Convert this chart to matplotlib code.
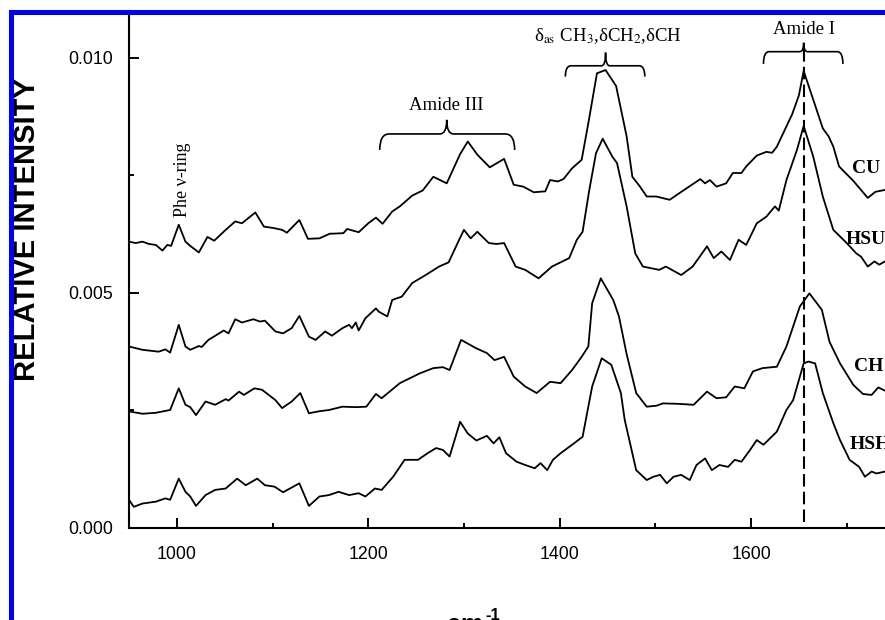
import numpy as np
import matplotlib
matplotlib.use("Agg")
import matplotlib.pyplot as plt
from matplotlib.patches import Rectangle, PathPatch
from matplotlib.path import Path
from matplotlib.ticker import MultipleLocator, FormatStrFormatter

# Raman spectra, wavenumber (cm-1) and relative intensity in units of 1e-3
cu_x = [950, 957, 964, 971, 978, 985, 990, 994, 1002, 1009, 1014, 1023, 1032, 1039, 1051, 1061,
        1068, 1082, 1091, 1101, 1110, 1115, 1128, 1137, 1149, 1160, 1163, 1174, 1178, 1190, 1200,
        1208, 1215, 1225, 1233, 1246, 1257, 1268, 1282, 1296, 1304, 1314, 1327, 1342, 1352, 1362,
        1373, 1385, 1390, 1398, 1404, 1413, 1423, 1430, 1439, 1448, 1459, 1470, 1476, 1484, 1491,
        1501, 1515, 1525, 1547, 1552, 1557, 1564, 1574, 1581, 1590, 1595, 1606, 1616, 1622, 1627,
        1643, 1650, 1655, 1665, 1675, 1681, 1686, 1692, 1707, 1722, 1730, 1740]
cu_y = [6.09, 6.06, 6.09, 6.04, 6.02, 5.90, 6.02, 6.00, 6.45, 6.09, 6.00, 5.86, 6.19, 6.11, 6.34, 6.52,
        6.48, 6.71, 6.41, 6.38, 6.34, 6.28, 6.55, 6.15, 6.16, 6.26, 6.26, 6.27, 6.36, 6.29, 6.48,
        6.60, 6.47, 6.73, 6.84, 7.07, 7.18, 7.47, 7.33, 7.95, 8.22, 7.94, 7.67, 7.85, 7.30, 7.26,
        7.14, 7.16, 7.40, 7.37, 7.42, 7.65, 7.83, 8.61, 9.67, 9.74, 9.40, 8.33, 7.47, 7.26, 7.05,
        7.05, 6.98, 7.12, 7.42, 7.33, 7.40, 7.26, 7.33, 7.55, 7.55, 7.69, 7.92, 8.00, 7.98, 8.11,
        8.80, 9.20, 9.72, 9.11, 8.50, 8.33, 8.11, 7.69, 7.38, 7.02, 7.15, 7.19]

hsu_x = [950, 964, 981, 988, 993, 1002, 1009, 1014, 1023, 1026, 1033, 1049, 1054, 1061, 1068, 1080,
         1087, 1092, 1103, 1111, 1120, 1128, 1138, 1145, 1155, 1162, 1173, 1180, 1183, 1187, 1190,
         1197, 1208, 1211, 1220, 1225, 1235, 1246, 1260, 1274, 1284, 1295, 1300, 1307, 1314, 1326,
         1334, 1342, 1354, 1364, 1378, 1392, 1410, 1418, 1424, 1431, 1438, 1445, 1455, 1460, 1470,
         1479, 1487, 1504, 1511, 1527, 1539, 1554, 1561, 1569, 1578, 1587, 1595, 1606, 1616, 1625,
         1629, 1637, 1648, 1655, 1665, 1675, 1686, 1700, 1710, 1715, 1722, 1729, 1734, 1740]
hsu_y = [3.86, 3.79, 3.75, 3.80, 3.73, 4.32, 3.86, 3.79, 3.87, 3.85, 4.00, 4.20, 4.14, 4.44, 4.37, 4.44,
         4.39, 4.41, 4.18, 4.14, 4.25, 4.51, 4.07, 4.00, 4.18, 4.09, 4.25, 4.32, 4.25, 4.37, 4.20,
         4.46, 4.67, 4.60, 4.50, 4.85, 4.92, 5.21, 5.38, 5.56, 5.65, 6.13, 6.34, 6.16, 6.30, 6.06,
         6.04, 6.06, 5.56, 5.49, 5.31, 5.56, 5.74, 6.13, 6.30, 7.19, 7.97, 8.28, 7.90, 7.76, 6.84,
         5.84, 5.56, 5.49, 5.56, 5.38, 5.56, 5.99, 5.74, 5.88, 5.70, 6.13, 6.02, 6.48, 6.62, 6.84,
         6.75, 7.40, 8.04, 8.55, 7.90, 7.05, 6.34, 6.06, 5.84, 5.77, 5.56, 5.67, 5.60, 5.67]

ch_x = [950, 964, 978, 993, 1002, 1009, 1014, 1020, 1030, 1040, 1051, 1054, 1065, 1070, 1081, 1089,
        1103, 1110, 1120, 1129, 1138, 1148, 1159, 1173, 1187, 1198, 1208, 1214, 1233, 1254, 1268,
        1278, 1285, 1297, 1313, 1324, 1332, 1342, 1352, 1364, 1376, 1390, 1401, 1413, 1423, 1430,
        1434, 1443, 1456, 1462, 1470, 1480, 1491, 1501, 1508, 1525, 1540, 1554, 1564, 1574, 1583,
        1593, 1602, 1612, 1627, 1637, 1651, 1661, 1674, 1682, 1693, 1707, 1717, 1726, 1733, 1740]
ch_y = [2.48, 2.43, 2.45, 2.51, 2.97, 2.62, 2.57, 2.40, 2.69, 2.62, 2.74, 2.71, 2.90, 2.83, 2.97, 2.94,
        2.72, 2.55, 2.69, 2.87, 2.44, 2.48, 2.51, 2.58, 2.57, 2.58, 2.85, 2.76, 3.08, 3.29, 3.40,
        3.42, 3.36, 4.00, 3.82, 3.72, 3.57, 3.64, 3.22, 3.01, 2.87, 3.11, 3.08, 3.36, 3.64, 3.86,
        4.78, 5.31, 4.85, 4.50, 3.70, 2.87, 2.58, 2.60, 2.65, 2.64, 2.62, 2.90, 2.76, 2.78, 3.01,
        2.97, 3.33, 3.40, 3.43, 3.86, 4.71, 4.99, 4.64, 3.96, 3.50, 3.04, 2.85, 2.83, 2.99, 2.92]

hsh_x = [950, 955, 964, 978, 988, 993, 1002, 1009, 1014, 1020, 1030, 1040, 1051, 1063, 1072, 1084,
         1092, 1102, 1111, 1128, 1138, 1149, 1159, 1169, 1180, 1190, 1197, 1207, 1214, 1226, 1238,
         1252, 1262, 1271, 1278, 1285, 1296, 1304, 1313, 1324, 1331, 1337, 1344, 1355, 1364, 1374,
         1380, 1387, 1393, 1401, 1413, 1424, 1434, 1444, 1454, 1464, 1468, 1480, 1491, 1498, 1505,
         1512, 1519, 1527, 1536, 1543, 1552, 1559, 1567, 1576, 1583, 1590, 1599, 1606, 1613, 1627,
         1637, 1644, 1655, 1660, 1667, 1675, 1686, 1693, 1703, 1713, 1719, 1726, 1731, 1740]
hsh_y = [0.60, 0.45, 0.52, 0.56, 0.63, 0.60, 1.05, 0.77, 0.67, 0.47, 0.70, 0.81, 0.84, 1.05, 0.91, 1.05,
         0.91, 0.88, 0.76, 0.95, 0.47, 0.67, 0.70, 0.77, 0.70, 0.74, 0.67, 0.84, 0.81, 1.09, 1.45,
         1.45, 1.59, 1.70, 1.66, 1.52, 2.26, 2.01, 1.86, 1.96, 1.80, 1.93, 1.59, 1.41, 1.34, 1.27,
         1.38, 1.23, 1.45, 1.59, 1.77, 1.94, 3.01, 3.61, 3.47, 2.87, 2.30, 1.23, 1.02, 1.09, 1.13,
         0.95, 1.09, 1.13, 1.02, 1.34, 1.48, 1.23, 1.34, 1.30, 1.45, 1.41, 1.66, 1.87, 1.77, 2.05,
         2.51, 2.72, 3.50, 3.54, 3.50, 2.87, 2.23, 1.87, 1.45, 1.30, 1.09, 1.20, 1.16, 1.20]

series = [(cu_x, cu_y, "CU", 1706, 7.64),
          (hsu_x, hsu_y, "HSU", 1699, 6.13),
          (ch_x, ch_y, "CH", 1708, 3.43),
          (hsh_x, hsh_y, "HSH", 1703, 1.77)]

# band groups: (x start, x end, x tip, y horizontal, y tip, y end), intensity 1e-3
braces = [(1212, 1353, 1282, 8.38, 8.68, 8.04),
          (1406, 1489, 1448, 9.83, 10.11, 9.60),
          (1613, 1696, 1655, 10.13, 10.32, 9.87)]
amide1_pos = 1655

plt.rcParams["mathtext.fontset"] = "stix"
SANS = ["Liberation Sans", "DejaVu Sans"]
SERIF = ["Liberation Serif", "DejaVu Serif"]

W, H = 885, 620
fig = plt.figure(figsize=(W / 100, H / 100), dpi=100)
fig.patch.set_facecolor("white")
ax = fig.add_axes([129 / W, 92 / H, 756 / W, 513 / H])

for xs, ys, name, lx, ly in series:
    ax.plot(xs, np.array(ys) * 1e-3, color="black", lw=1.3,
            solid_joinstyle="round", solid_capstyle="round")
    ax.text(lx, ly * 1e-3, name, family=SERIF, fontsize=14, fontweight="bold",
            ha="left", va="center", clip_on=False)


def draw_brace(x0, x1, xm, yh, yt, ye):
    r_end = (x1 - x0) * 0.07
    r_mid = (x1 - x0) * 0.05
    s = 1e-3
    verts = [(x0, ye * s), (x0, yh * s), (x0 + r_end, yh * s),
             (xm - r_mid, yh * s), (xm, yh * s), (xm, yt * s),
             (xm, yh * s), (xm + r_mid, yh * s),
             (x1 - r_end, yh * s), (x1, yh * s), (x1, ye * s)]
    codes = [Path.MOVETO, Path.CURVE3, Path.CURVE3,
             Path.LINETO, Path.CURVE3, Path.CURVE3,
             Path.CURVE3, Path.CURVE3,
             Path.LINETO, Path.CURVE3, Path.CURVE3]
    ax.add_patch(PathPatch(Path(verts, codes), fill=False, lw=1.2,
                           edgecolor="black", clip_on=False))


for b in braces:
    draw_brace(*b)

ax.plot([amide1_pos, amide1_pos], [0.13e-3, 10.28e-3], color="black", lw=1.5,
        linestyle=(0, (6, 2.5)))

ax.text(1282, 8.9e-3, "Amide III", family=SERIF, fontsize=13.5, ha="center", va="baseline")
ax.text(1450, 10.35e-3, r"δ$_{\rm as}$ CH$_3$,δCH$_2$,δCH", family=SERIF, fontsize=13.5,
        ha="center", va="baseline")
ax.text(1655, 10.5e-3, "Amide I", family=SERIF, fontsize=13.5, ha="center", va="baseline")
ax.text(1006, 7.4e-3, "Phe ν-ring", family=SERIF, fontsize=13, rotation=90,
        ha="center", va="center")

ax.set_xlim(950, 1740)
ax.set_ylim(0, 10.91e-3)
ax.xaxis.set_major_locator(MultipleLocator(200))
ax.xaxis.set_minor_locator(MultipleLocator(100))
ax.yaxis.set_major_locator(MultipleLocator(0.005))
ax.yaxis.set_minor_locator(MultipleLocator(0.0025))
ax.yaxis.set_major_formatter(FormatStrFormatter("%.3f"))
ax.tick_params(which="both", direction="in", width=1.4, top=False, right=False)
ax.tick_params(which="major", length=7.2)
ax.tick_params(which="minor", length=3.6)
ax.tick_params(axis="y", which="major", pad=11.5, labelsize=12.8)
ax.tick_params(axis="x", which="major", pad=13, labelsize=12.8)
for lab in ax.get_xticklabels() + ax.get_yticklabels():
    lab.set_family(SANS)
for side in ("top", "right"):
    ax.spines[side].set_visible(False)
for side in ("left", "bottom"):
    ax.spines[side].set_linewidth(1.5)

fig.text(27 / W, 1 - 230 / H, "RELATIVE INTENSITY", family=SANS, fontsize=21,
         fontweight="bold", rotation=90, ha="center", va="center")
# x axis title, cropped at the bottom edge as in the source figure
fig.text(465 / W, 1 - 632 / H, "cm", family=SANS, fontsize=18,
         fontweight="bold", ha="center", va="baseline")
fig.text(485 / W, 1 - 620 / H, "-1", family=SANS, fontsize=12,
         fontweight="bold", ha="left", va="baseline")

# blue frame (cropped)
fig.add_artist(Rectangle((9 / W, 1 - 15 / H), (W - 9) / W, 5 / H,
                         transform=fig.transFigure, color="blue", lw=0))
fig.add_artist(Rectangle((9 / W, 0), 5 / W, (H - 10) / H,
                         transform=fig.transFigure, color="blue", lw=0))

fig.savefig("out.png", dpi=100)
